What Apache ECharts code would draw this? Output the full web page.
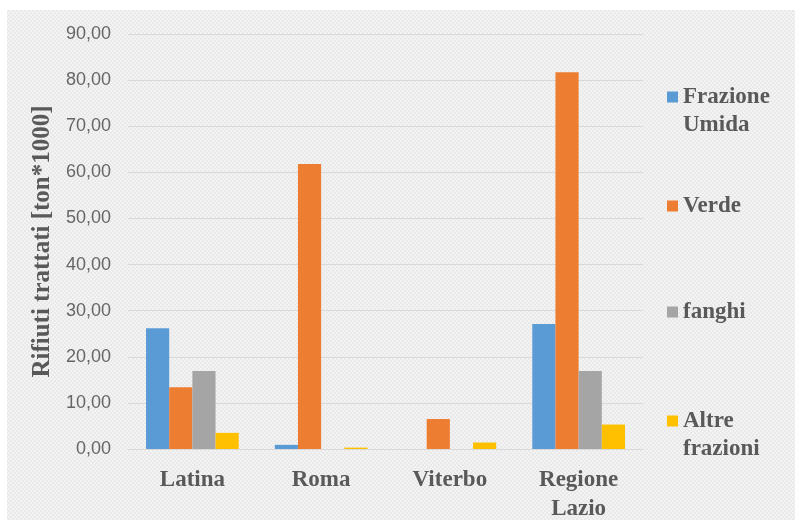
<!DOCTYPE html>
<html>
<head>
<meta charset="utf-8">
<script src="https://cdn.jsdelivr.net/npm/echarts@6/dist/echarts.min.js"></script>
<style>
  html, body { margin: 0; padding: 0; background: #fff; }
  #chart { width: 795px; height: 520px; }
</style>
</head>
<body>
<div id="chart"></div>
<script>
// categorie (province) e serie
const categories = ['Latina', 'Roma', 'Viterbo', 'Regione Lazio'];
const frazioneUmida = [26.2, 0.9, 0, 27.1];
const verde = [13.4, 61.8, 6.5, 81.7];
const fanghi = [16.9, 0, 0, 16.9];
const altreFrazioni = [3.5, 0.3, 1.4, 5.3];
const seriesNames = ['Frazione Umida', 'Verde', 'fanghi', 'Altre frazioni'];
const colors = ['#5B9BD5', '#ED7D31', '#A5A5A5', '#FFC000'];

// sfondo puntinato stile excel
const pat = document.createElement('canvas');
pat.width = 4; pat.height = 4;
const pctx = pat.getContext('2d');
pctx.fillStyle = '#e9e9e9';
pctx.fillRect(0, 0, 4, 4);
pctx.fillStyle = '#f3f3f3';
pctx.fillRect(0, 0, 2, 2);
pctx.fillRect(2, 2, 2, 2);

const chart = echarts.init(document.getElementById('chart'));

const boldText = {
  fontFamily: 'Liberation Serif',
  fontWeight: 'bold',
  fontSize: 23,
  color: '#595959'
};

function legendAt(name, top, twoLines) {
  return {
    data: [name],
    left: 667,
    top: top,
    padding: 0,
    orient: 'vertical',
    itemWidth: 11,
    itemHeight: 11,
    icon: 'rect',
    selectedMode: false,
    // riga vuota in testa: la prima riga resta allineata al quadratino
    formatter: function (n) { return twoLines ? '\n' + n.replace(' ', '\n') : n; },
    textStyle: Object.assign({}, boldText, { lineHeight: 28 })
  };
}

chart.setOption({
  animation: false,
  color: colors,
  graphic: [{
    type: 'rect',
    z: -10,
    silent: true,
    shape: { x: 7, y: 10, width: 790, height: 512 },
    style: { fill: { image: pat, repeat: 'repeat' } }
  }],
  legend: [
    legendAt(seriesNames[0], 55, true),
    legendAt(seriesNames[1], 192, false),
    legendAt(seriesNames[2], 298, false),
    legendAt(seriesNames[3], 379, true)
  ],
  grid: { left: 128, right: 152, top: 34, bottom: 71, outerBoundsMode: 'none' },
  xAxis: {
    type: 'category',
    data: categories,
    axisLine: { lineStyle: { color: '#d9d9d9' } },
    axisTick: { show: false },
    axisLabel: Object.assign({}, boldText, {
      margin: 17,
      lineHeight: 29,
      formatter: function (v) { return v.replace(' ', '\n'); }
    })
  },
  yAxis: {
    type: 'value',
    min: 0,
    max: 90,
    interval: 10,
    name: 'Rifiuti trattati [ton*1000]',
    nameLocation: 'middle',
    nameGap: 55,
    nameTextStyle: Object.assign({}, boldText, { fontSize: 25 }),
    axisLine: { show: false },
    axisTick: { show: false },
    splitLine: { lineStyle: { color: '#d9d9d9' } },
    axisLabel: {
      margin: 17,
      fontFamily: 'Liberation Sans',
      fontSize: 18,
      color: '#666',
      formatter: function (v) { return v.toFixed(2).replace('.', ','); }
    }
  },
  series: [
    { name: seriesNames[0], type: 'bar', data: frazioneUmida, barGap: '0%', barCategoryGap: '28%' },
    { name: seriesNames[1], type: 'bar', data: verde },
    { name: seriesNames[2], type: 'bar', data: fanghi },
    { name: seriesNames[3], type: 'bar', data: altreFrazioni }
  ]
});

window.onresize = function () {
  chart.resize();
};
</script>
</body>
</html>
